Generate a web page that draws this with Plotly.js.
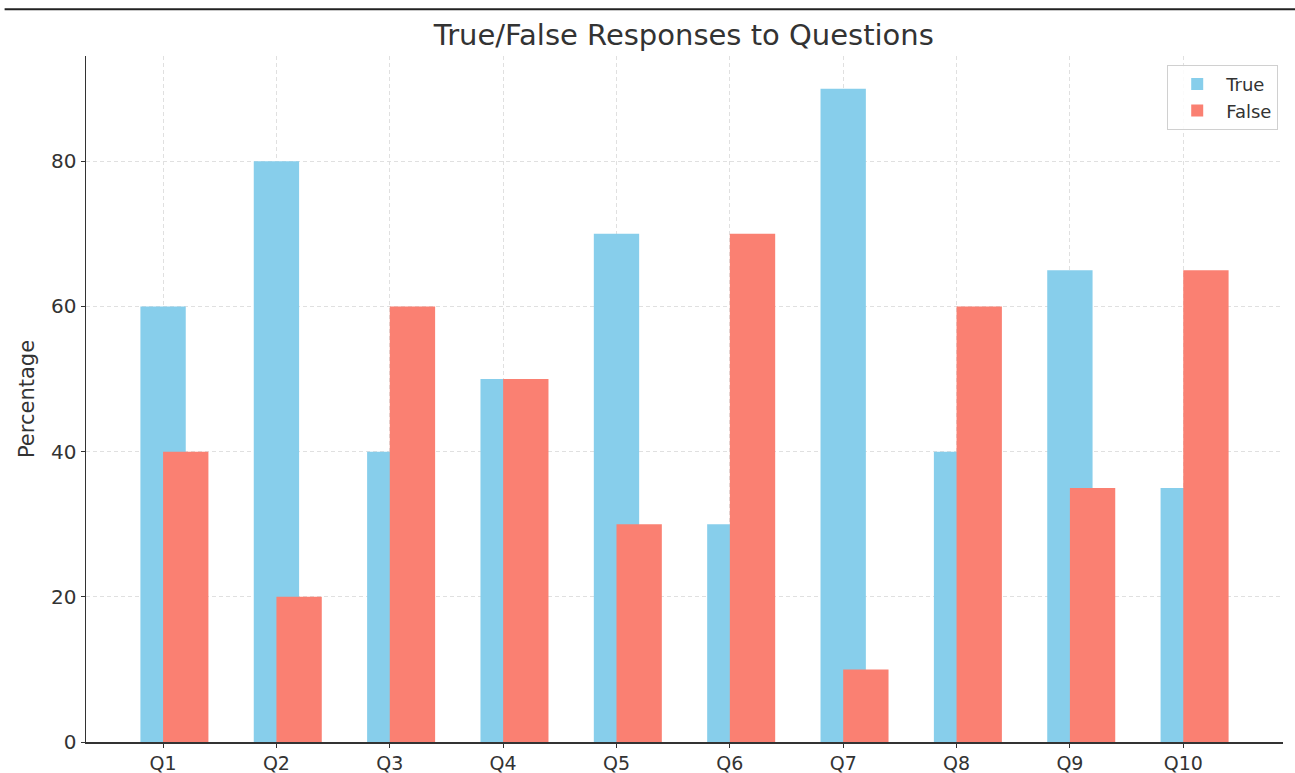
<!DOCTYPE html>
<html><head><meta charset="utf-8">
<script src="https://cdn.plot.ly/plotly-3.0.1.min.js"></script>
<style>html,body{margin:0;padding:0;background:#fff;}#chart{width:1295px;height:773px;}</style>
</head><body><div id="chart"></div>
<script>
const questions = ["Q1","Q2","Q3","Q4","Q5","Q6","Q7","Q8","Q9","Q10"];
const trueValues = [60, 80, 40, 50, 70, 30, 90, 40, 65, 35];
const falseValues = [40, 20, 60, 50, 30, 70, 10, 60, 35, 65];
const yTicks = [0, 20, 40, 60, 80];

const idx = questions.map((q, i) => i);
const barWidth = 0.4;
const offset = 0.2;

const traces = [
  {type:'bar', name:'True', x: idx, y: trueValues, width: barWidth,
   marker:{color:'#87CEEB', line:{width:0}}, hoverinfo:'y'},
  {type:'bar', name:'False', x: idx.map(i => i + offset), y: falseValues, width: barWidth,
   marker:{color:'#FA8072', line:{width:0}}, hoverinfo:'y'}
];

const layout = {
  width:1295, height:773,
  margin:{l:86, r:12, t:56, b:31},
  paper_bgcolor:'#fff', plot_bgcolor:'#fff',
  barmode:'overlay',
  font:{family:'DejaVu Sans, sans-serif', color:'#333'},
  title:{text:'True/False Responses to Questions', font:{size:29, color:'#333'}, x:0.528, xanchor:'center', y:0.955, yanchor:'middle'},
  xaxis:{range:[-0.68, 9.88], tickvals: idx, ticktext: questions, showline:true, linecolor:'#333', linewidth:1.5,
    ticks:'outside', ticklen:4, tickcolor:'#333', tickfont:{size:19, color:'#333'},
    showgrid:true, gridcolor:'#e0e0e0', griddash:'4px,3px', gridwidth:1, zeroline:false, fixedrange:true},
  yaxis:{range:[0, 94.5], tickvals: yTicks, showline:true, linecolor:'#333', linewidth:1.5,
    ticks:'outside', ticklen:4, tickcolor:'#333', tickfont:{size:20, color:'#333'},
    showgrid:true, gridcolor:'#e0e0e0', griddash:'4px,3px', gridwidth:1, zeroline:false,
    title:{text:'Percentage', font:{size:21, color:'#333'}, standoff:10}, fixedrange:true},
  legend:{x:0.996, y:0.987, xanchor:'right', yanchor:'top', bgcolor:'rgba(255,255,255,0.85)',
    bordercolor:'#d0d0d0', borderwidth:1, font:{size:18, color:'#333'}, itemwidth:48, tracegroupgap:4},
  shapes:[{type:'line', xref:'paper', yref:'paper', x0:-0.068, x1:1.02, y0:1.068, y1:1.068, line:{color:'#222', width:2}}],
  showlegend:true
};

Plotly.newPlot('chart', traces, layout, {displayModeBar:false, staticPlot:true});
</script></body></html>
